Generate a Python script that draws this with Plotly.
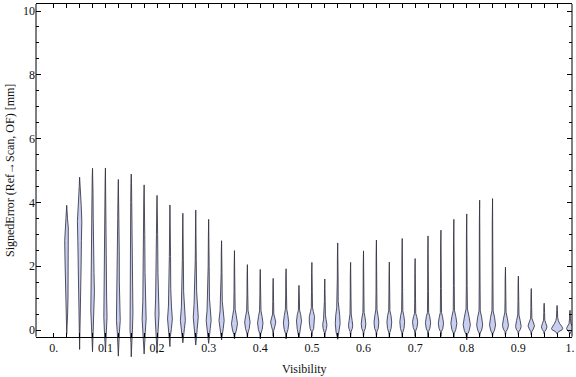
import plotly.graph_objects as go

# ---------------- data ----------------
visibility = [0.025, 0.05, 0.075, 0.1, 0.125, 0.15, 0.175, 0.2, 0.225, 0.25,
              0.275, 0.3, 0.325, 0.35, 0.375, 0.4, 0.425, 0.45, 0.475, 0.5,
              0.525, 0.55, 0.575, 0.6, 0.625, 0.65, 0.675, 0.7, 0.725, 0.75,
              0.775, 0.8, 0.825, 0.85, 0.875, 0.9, 0.925, 0.95, 0.975, 1.0]

err_min = [-0.12, -0.61, -0.68, -0.68, -0.82, -0.84, -0.75, -0.73, -0.52, -0.40,
           -0.47, -0.42, -0.31, -0.28, -0.25, -0.28, -0.20, -0.28, -0.25, -0.20,
           -0.25, -0.29, -0.22, -0.22, -0.22, -0.22, -0.22, -0.20, -0.22, -0.20,
           -0.22, -0.31, -0.20, -0.20, -0.18, -0.15, -0.15, -0.12, -0.12, -0.12]

err_max = [3.91, 4.79, 5.07, 5.08, 4.72, 4.89, 4.55, 4.22, 3.92, 3.66,
           3.76, 3.47, 2.80, 2.49, 2.05, 1.90, 1.62, 1.92, 1.40, 2.12,
           1.60, 2.73, 2.12, 2.48, 2.82, 2.13, 2.87, 2.24, 2.95, 3.13,
           3.47, 3.64, 4.07, 4.12, 1.97, 1.69, 1.30, 0.84, 0.77, 0.62]

# density profile of each violin: error levels and relative density at them
density_y = [
    [0.0, 0.5, 1.0, 1.6, 2.2, 2.8, 3.2, 3.5, 3.7],
    [-0.2, 0.3, 1.0, 2.0, 2.8, 3.4, 3.9, 4.3, 4.5],
    [-0.3, 0.1, 0.6, 1.2, 1.8, 2.5, 3.5, 4.3, 4.8],
    [-0.3, 0.0, 0.4, 1.0, 2.0, 3.0, 4.0, 4.7],
    [-0.4, -0.1, 0.3, 0.8, 1.5, 2.5, 3.5, 4.3],
    [-0.4, 0.0, 0.5, 1.2, 2.0, 3.0, 4.0, 4.6],
    [-0.4, -0.05, 0.35, 0.9, 1.8, 3.0, 4.0],
    [-0.3, 0.0, 0.5, 1.0, 1.8, 3.0, 3.8],
    [-0.2, 0.05, 0.35, 0.75, 1.3, 2.3, 3.2],
    [-0.15, 0.05, 0.3, 0.7, 1.2, 2.2, 3.0],
    [-0.15, 0.05, 0.4, 0.8, 1.2, 2.2, 3.0],
    [-0.15, 0.05, 0.3, 0.6, 1.0, 2.0, 2.9],
    [-0.1, 0.05, 0.3, 0.6, 0.9, 1.8, 2.4],
    [-0.15, 0.0, 0.2, 0.45, 0.65, 1.2, 2.0],
    [-0.1, 0.05, 0.25, 0.45, 0.6, 1.1, 1.7],
    [-0.12, 0.02, 0.22, 0.42, 0.6, 1.1, 1.6],
    [-0.02, 0.1, 0.25, 0.38, 0.5, 0.9, 1.3],
    [-0.12, 0.02, 0.22, 0.45, 0.65, 1.1, 1.6],
    [-0.12, 0.02, 0.28, 0.48, 0.62, 1.0, 1.2],
    [-0.05, 0.05, 0.25, 0.42, 0.58, 0.7, 1.2, 1.8],
    [-0.08, 0.05, 0.17, 0.32, 0.48, 0.9, 1.3],
    [-0.2, -0.05, 0.2, 0.45, 0.7, 0.9, 1.6, 2.3],
    [-0.05, 0.05, 0.15, 0.3, 0.5, 1.0, 1.7],
    [-0.05, 0.05, 0.2, 0.38, 0.55, 1.1, 2.0],
    [-0.05, 0.05, 0.25, 0.45, 0.63, 1.2, 2.3],
    [-0.08, 0.05, 0.25, 0.45, 0.6, 1.1, 1.7],
    [-0.08, 0.05, 0.26, 0.45, 0.6, 1.2, 2.3],
    [-0.03, 0.08, 0.26, 0.42, 0.52, 1.0, 1.8],
    [-0.05, 0.06, 0.23, 0.42, 0.55, 1.2, 2.4],
    [-0.05, 0.05, 0.21, 0.4, 0.55, 1.3, 2.6],
    [-0.1, 0.02, 0.21, 0.42, 0.62, 1.4, 2.8],
    [-0.15, -0.02, 0.16, 0.4, 0.66, 1.4, 3.0],
    [-0.1, 0.0, 0.16, 0.4, 0.6, 1.5, 3.4],
    [-0.1, 0.0, 0.16, 0.4, 0.6, 1.5, 3.4],
    [-0.05, 0.03, 0.14, 0.35, 0.56, 1.0, 1.6],
    [-0.05, 0.02, 0.11, 0.3, 0.47, 0.9, 1.4],
    [-0.05, 0.03, 0.13, 0.25, 0.37, 0.7, 1.05],
    [-0.05, 0.02, 0.1, 0.2, 0.31, 0.55, 0.72],
    [-0.05, 0.0, 0.05, 0.12, 0.2, 0.3, 0.4, 0.6],
    [-0.05, 0.0, 0.05, 0.12, 0.2, 0.35, 0.5],
]
density = [
    [0.3, 0.9, 1.3, 1.3, 1.7, 2.0, 1.6, 0.8, 0.4],
    [0.3, 0.8, 1.3, 1.5, 1.8, 2.2, 1.6, 0.7, 0.4],
    [0.3, 1.0, 1.7, 1.9, 1.5, 1.0, 0.7, 0.5, 0.3],
    [0.3, 1.1, 1.6, 1.2, 1.0, 0.9, 0.6, 0.3],
    [0.3, 1.0, 1.9, 1.3, 1.0, 0.9, 0.6, 0.3],
    [0.3, 1.2, 1.7, 1.6, 1.2, 0.8, 0.5, 0.3],
    [0.3, 1.2, 2.0, 1.3, 0.9, 0.6, 0.4],
    [0.3, 1.1, 2.0, 1.4, 0.9, 0.6, 0.3],
    [0.4, 1.5, 2.4, 1.5, 0.8, 0.6, 0.3],
    [0.5, 1.6, 2.5, 1.5, 0.8, 0.5, 0.3],
    [0.5, 1.5, 2.5, 1.7, 0.9, 0.5, 0.3],
    [0.5, 1.6, 2.5, 1.6, 0.8, 0.5, 0.3],
    [0.6, 1.7, 2.6, 1.5, 0.7, 0.4, 0.3],
    [0.5, 2.0, 3.0, 1.8, 0.7, 0.45, 0.3],
    [0.5, 1.9, 2.7, 1.7, 0.7, 0.4, 0.3],
    [0.5, 1.9, 2.7, 1.8, 0.7, 0.4, 0.3],
    [0.5, 1.6, 2.6, 1.6, 0.6, 0.4, 0.3],
    [0.5, 1.9, 2.7, 1.8, 0.7, 0.4, 0.3],
    [0.5, 1.7, 2.5, 1.7, 0.6, 0.4, 0.3],
    [0.5, 1.8, 2.6, 2.6, 1.4, 0.6, 0.4, 0.3],
    [0.5, 1.7, 2.1, 1.3, 0.6, 0.4, 0.3],
    [0.5, 1.7, 2.4, 2.0, 1.0, 0.5, 0.4, 0.3],
    [0.5, 1.7, 2.1, 1.5, 0.6, 0.4, 0.3],
    [0.5, 1.8, 2.3, 1.6, 0.6, 0.4, 0.3],
    [0.5, 1.8, 2.4, 1.6, 0.6, 0.4, 0.3],
    [0.5, 1.8, 2.4, 1.7, 0.6, 0.4, 0.3],
    [0.5, 1.8, 2.4, 1.6, 0.6, 0.4, 0.3],
    [0.5, 1.9, 2.6, 1.6, 0.6, 0.4, 0.3],
    [0.5, 1.9, 2.6, 1.7, 0.6, 0.4, 0.3],
    [0.5, 1.9, 2.6, 1.7, 0.6, 0.4, 0.3],
    [0.5, 2.0, 3.0, 2.0, 0.6, 0.4, 0.3],
    [0.6, 2.4, 3.6, 2.4, 0.7, 0.4, 0.3],
    [0.5, 2.0, 3.0, 2.0, 0.6, 0.4, 0.3],
    [0.5, 2.0, 3.0, 2.0, 0.6, 0.4, 0.3],
    [0.5, 2.1, 3.0, 2.0, 0.6, 0.4, 0.3],
    [0.5, 2.0, 2.8, 1.8, 0.6, 0.4, 0.3],
    [0.5, 2.0, 3.2, 2.0, 0.6, 0.4, 0.3],
    [0.5, 2.0, 2.8, 1.8, 0.6, 0.4, 0.3],
    [1.5, 4.8, 5.6, 4.6, 2.6, 1.2, 0.6, 0.35],
    [1.0, 2.8, 3.4, 2.4, 0.9, 0.5, 0.3],
]

x_tick_vals = [0.0, 0.1, 0.2, 0.3, 0.4, 0.5, 0.6, 0.7, 0.8, 0.9, 1.0]
x_tick_text = ["0.", "0.1", "0.2", "0.3", "0.4", "0.5", "0.6", "0.7", "0.8", "0.9", "1."]
y_tick_vals = [0, 2, 4, 6, 8, 10]
y_minor_vals = [0.5, 1, 1.5, 2.5, 3, 3.5, 4.5, 5, 5.5, 6.5, 7, 7.5, 8.5, 9, 9.5]
position_ticks = [0.0] + visibility  # ticks along the x frame

# ---------------- style / layout ----------------
FONT = "Liberation Serif, Times New Roman, serif"
FILL = "#c8cff1"
EDGE = "rgba(45,45,60,0.82)"
WIDTH_SCALE = 1 / 516.2          # density unit -> visibility units
X0, X1 = -0.0345, 1.0039
Y0, Y1 = -0.94, 10.22
Y_FRAME = -0.21

fig = go.Figure()
for v, lo, hi, ys, ds in zip(visibility, err_min, err_max, density_y, density):
    ry = [lo] + ys + [hi]
    rw = [0.0] + ds + [0.0]
    xs = [v + w * WIDTH_SCALE for w in rw] + [v - w * WIDTH_SCALE for w in rw[::-1]]
    yy = ry + ry[::-1]
    fig.add_trace(go.Scatter(
        x=xs, y=yy, mode="lines", fill="toself", fillcolor=FILL,
        line=dict(color=EDGE, width=1), hoverinfo="skip", showlegend=False))

frame_pos = (Y_FRAME - Y0) / (Y1 - Y0)

fig.update_layout(
    width=576, height=377,
    margin=dict(l=36, r=4, t=4, b=17, autoexpand=False),
    paper_bgcolor="white", plot_bgcolor="white",
    font=dict(family=FONT, size=12, color="#111"),
    xaxis=dict(range=[X0, X1], visible=False, showgrid=False, zeroline=False,
               automargin=False),
    xaxis2=dict(
        overlaying="x", anchor="free", position=frame_pos, range=[X0, X1],
        tickmode="array", tickvals=x_tick_vals, ticktext=x_tick_text,
        ticks="inside", ticklen=4, tickwidth=1, tickcolor="black",
        minor=dict(tickmode="array", tickvals=position_ticks, ticks="inside",
                   ticklen=4, tickwidth=1, tickcolor="black"),
        showline=True, linecolor="black", linewidth=1,
        showgrid=False, zeroline=False, automargin=False,
        tickfont=dict(family=FONT, size=12, color="#111")),
    xaxis3=dict(
        overlaying="x", anchor="y", side="top", range=[X0, X1],
        tickmode="array", tickvals=position_ticks[:-1],
        ticks="inside", ticklen=4, tickwidth=1, tickcolor="black",
        showticklabels=False, showline=True, linecolor="black", linewidth=1,
        showgrid=False, zeroline=False, automargin=False),
    yaxis=dict(
        range=[Y0, Y1], tickmode="array", tickvals=y_tick_vals,
        ticks="inside", ticklen=5, tickwidth=1, tickcolor="black",
        minor=dict(tickmode="array", tickvals=y_minor_vals, ticks="inside",
                   ticklen=3, tickwidth=1, tickcolor="black"),
        mirror="ticks", showline=False, showgrid=False, zeroline=False,
        automargin=False,
        tickfont=dict(family=FONT, size=12, color="#111")),
)

# dummy traces so that the overlay axes get drawn
fig.add_trace(go.Scatter(x=[None], y=[None], xaxis="x2", showlegend=False, hoverinfo="skip"))
fig.add_trace(go.Scatter(x=[None], y=[None], xaxis="x3", showlegend=False, hoverinfo="skip"))

# left and right frame lines
for px in (0, 1):
    fig.add_shape(type="line", xref="paper", yref="y", x0=px, x1=px,
                  y0=Y_FRAME, y1=Y1, line=dict(color="black", width=1), layer="above")

fig.add_annotation(text="Visibility", xref="paper", yref="paper", x=0.5,
                   y=(360 - 369) / 356, showarrow=False, xanchor="center", yanchor="middle",
                   font=dict(family=FONT, size=12, color="#111"))
fig.add_annotation(text="SignedError (Ref\u2192Scan, OF) [mm]", xref="paper", yref="paper",
                   x=(10.5 - 36) / 536, y=(360 - 170.5) / 356, textangle=-90,
                   showarrow=False, xanchor="center", yanchor="middle",
                   font=dict(family=FONT, size=12, color="#111"))

fig.write_html("out.html",
               config={"displayModeBar": False, "staticPlot": True},
               post_script="document.body.style.margin='0px';document.body.style.overflow='hidden';")
